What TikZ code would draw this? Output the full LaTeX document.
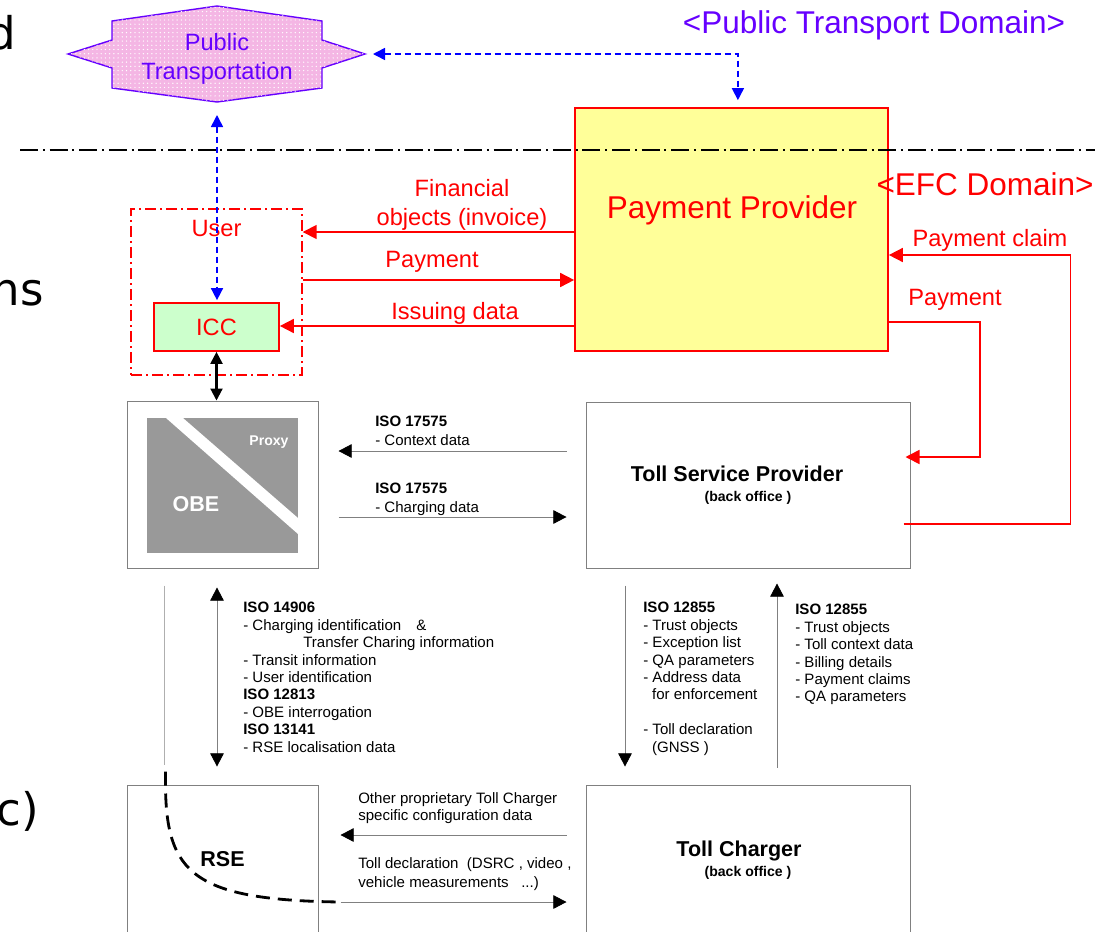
\documentclass[tikz,border=0pt]{standalone}
\usepackage{fontspec}
\setmainfont{Liberation Sans}
\newfontfamily\slidefont{DejaVu Sans}
\usepackage{xcolor}
\usepackage{tikz}
\usetikzlibrary{positioning, arrows.meta, patterns, calc}

\definecolor{efcred}{RGB}{255,0,0}
\definecolor{ptviolet}{RGB}{102,0,255}
\definecolor{ptblue}{RGB}{0,0,255}
\definecolor{ptpink}{RGB}{244,182,228}
\definecolor{ppyellow}{RGB}{255,255,153}
\definecolor{iccgreen}{RGB}{204,255,204}
\definecolor{obegray}{RGB}{153,153,153}
\definecolor{boxgray}{RGB}{128,128,128}
\definecolor{lightline}{RGB}{175,175,175}

\newcommand{\domainfont}{\fontsize{22.4}{26}\selectfont}
\newcommand{\labelfont}{\fontsize{16.8}{20.4}\selectfont}
\newcommand{\isofont}{\fontsize{10.7}{12.4}\selectfont}
\newcommand{\officefont}{\fontsize{15.3}{18}\selectfont\bfseries}
\newcommand{\backfont}{\fontsize{10}{14.2}\selectfont\bfseries}

\tikzset{
  efcbox/.style={draw=efcred, line width=1.2pt, inner sep=0pt},
  efcgroup/.style={draw=efcred, line width=1pt, dash pattern=on 2.75mm off 1mm on 0.5mm off 1mm},
  officebox/.style={draw=boxgray, line width=0.7pt, inner sep=0pt},
  redlabel/.style={text=efcred, font=\labelfont, align=center, inner sep=0pt},
  redflow/.style={draw=efcred, line width=1.2pt, -{Triangle[length=3.5mm,width=3.5mm]}},
  ptflow/.style={draw=ptblue, line width=1.1pt, dash pattern=on 1.5mm off 1mm,
    {Triangle[length=3mm,width=3mm]}-{Triangle[length=3mm,width=3mm]}},
  iccflow/.style={draw=black, line width=1.5pt,
    {Triangle[length=3mm,width=3mm]}-{Triangle[length=3mm,width=3mm]}},
  isoflow/.style={draw=boxgray, line width=0.6pt, -{Triangle[length=3.3mm,width=3.4mm,color=black]}},
  isotext/.style={font=\isofont, align=left, anchor=north west, inner sep=0pt},
  obelabel/.style={text=white, font=\officefont, inner sep=0pt},
  slidetext/.style={font=\slidefont\fontsize{32}{36}\selectfont, anchor=base east, inner sep=0pt},
  domainline/.style={line width=1.2pt, dash pattern=on 4.5mm off 1.2mm on 0.5mm off 1.2mm}
}

\begin{document}
\begin{tikzpicture}[x=0.25mm, y=-0.25mm]
  \useasboundingbox (0,0) rectangle (1106,931);
  \clip (0,0) rectangle (1106,931);

  % cut-off words of the slide
  \node[slidetext] (slideD) at (16,49) {d};
  \node[slidetext] (slideNs) at (44,305) {ns};
  \node[slidetext] (slideC) at (39,825) {c)};

  % public transport side
  \filldraw[draw=ptviolet, line width=1pt, fill=ptpink, postaction={pattern=dots, pattern color=white}]
    (217,6) -- (322,21) -- (322,40) -- (365,54) -- (322,68) -- (322,88) -- (217,102)
    -- (112,88) -- (112,68) -- (68,54) -- (112,40) -- (112,21) -- cycle;
  \coordinate (ptE) at (365,54);
  \coordinate (ptS) at (217,102);
  \node[text=ptviolet, font=\labelfont, align=center, inner sep=0pt] (ptname) at (217,59) {Public\\Transportation};
  \node[text=ptviolet, font=\domainfont, inner sep=0pt] (ptdomain) at (874,25) {<Public Transport Domain>};

  % EFC side
  \node[efcbox, fill=ppyellow, minimum width=78.25mm, minimum height=60.75mm] (pp) at (731.5,229.5) {};
  \node[text=efcred, font=\domainfont, inner sep=0pt] (ppname) at (732,210) {Payment Provider};
  \node[text=efcred, font=\domainfont, inner sep=0pt] (efcdomain) at (985,184) {<EFC Domain>};

  \node[efcgroup, minimum width=42.75mm, minimum height=41.5mm] (user) at (216.5,292) {};
  \node[redlabel] (username) at ([yshift=-5mm]user.north) {User};
  \node[efcbox, fill=iccgreen, minimum width=31.25mm, minimum height=12mm, text=efcred, font=\labelfont] (icc) at (216.5,327) {ICC};

  % back offices and equipment
  \node[officebox, minimum width=47.75mm, minimum height=41.75mm] (obe) at (222.5,484.5) {};
  \fill[obegray] ([shift={(20,17)}]obe.north west) rectangle ([shift={(-20,-16)}]obe.south east);
  \fill[white] (166,418) -- (183,418) -- (298,518) -- (298,534) -- cycle;
  \node[obelabel, font=\fontsize{10}{12}\selectfont\bfseries] (proxy) at (269,442) {Proxy};
  \node[obelabel] (obename) at (196,504) {OBE};

  \node[officebox, minimum width=81mm, minimum height=41.5mm, align=center, font=\backfont] (tsp) at (748,485)
    {{\officefont Toll Service Provider\hspace*{5.5mm}}\\(back office )};
  \node[officebox, minimum width=47.75mm, minimum height=37mm, font=\officefont] (rse) at (222.5,859) {RSE};
  \node[officebox, minimum width=81mm, minimum height=37.5mm, align=center, font=\backfont] (tc) at (748,860)
    {{\officefont Toll Charger\hspace*{4.5mm}}\\(back office )};

  % rows of the connectors
  \coordinate (finrow) at (0,232);
  \coordinate (payrow) at (0,280);
  \coordinate (issrow) at (0,326);
  \coordinate (claimrow) at (0,255);
  \coordinate (claimout) at (0,524);
  \coordinate (tsppayout) at (0,322);
  \coordinate (tsppayin) at (0,457);
  \coordinate (ctxrow) at (0,451);
  \coordinate (chgrow) at (0,517);
  \coordinate (cfgrow) at (0,835);
  \coordinate (declrow) at (0,902);

  % financial flows
  \draw[redflow] (pp.west |- finrow) -- (user.east |- finrow);
  \draw[redflow] (user.east |- payrow) -- (pp.west |- payrow);
  \draw[redflow] (pp.west |- issrow) -- (icc.east |- issrow);
  \draw[redflow, shorten <=-1.75mm] (tsp.east |- claimout) -- ++(160,0) |- (pp.east |- claimrow);
  \draw[redflow, shorten >=-1.25mm] (pp.east |- tsppayout) -- ++(91,0) |- (tsp.east |- tsppayin);
  \node[redlabel] (finlbl) at (462,205) {Financial\\objects (invoice)};
  \node[redlabel] (paylbl) at (432,262) {Payment};
  \node[redlabel] (isslbl) at (455,313) {Issuing data};
  \node[redlabel] (claimlbl) at (990,240) {Payment claim};
  \node[redlabel] (tsppaylbl) at (955,300) {Payment};

  % public transport links
  \draw[ptflow, shorten <=2mm, shorten >=1.75mm] (ptE) -| ([xshift=1.6mm]pp.north);
  \draw[ptflow, shorten <=3.25mm, shorten >=0.5mm] (ptS) -- (ptS |- icc.north);
  \draw[iccflow] (icc.south) -- (icc.south |- obe.north);

  % domain border
  \draw[domainline] (20,150) -- (1095,150);

  % standardised interfaces
  \draw[isoflow, shorten <=4.75mm, shorten >=5mm] (tsp.west |- ctxrow) -- (obe.east |- ctxrow);
  \draw[isoflow, shorten <=5mm, shorten >=4.75mm] (obe.east |- chgrow) -- (tsp.west |- chgrow);
  \draw[isoflow, shorten <=4.75mm, shorten >=5.5mm] (tc.west |- cfgrow) -- (rse.east |- cfgrow);
  \draw[isoflow, shorten <=5.5mm, shorten >=4.75mm] (rse.east |- declrow) -- (tc.west |- declrow);
  \draw[draw=lightline, line width=0.8pt] ([shift={(38,17)}]obe.south west) -- ([shift={(38,-20)}]rse.north west);
  \draw[isoflow, {Triangle[length=3.3mm,width=3.4mm,color=black]}-{Triangle[length=3.3mm,width=3.4mm,color=black]}]
    ([shift={(-5.5,19)}]obe.south) -- ([shift={(-5.5,-18)}]rse.north);
  \draw[isoflow] ([shift={(-123,17)}]tsp.south) -- ([shift={(-123,-18)}]tc.north);
  \draw[isoflow] ([shift={(29,-17)}]tc.north) -- ([shift={(29,15)}]tsp.south);
  \draw[line width=2pt, dash pattern=on 3.5mm off 2mm]
    ([shift={(39,-13)}]rse.north west) .. controls (164,870) and (185,900) .. ($(rse.east |- declrow)+(22,0)$);

  \node[isotext] (iso17575ctx) at (375,416) {\textbf{ISO 17575}\\[1.2pt]- Context data};
  \node[isotext] (iso17575chg) at (375,483) {\textbf{ISO 17575}\\[1.2pt]- Charging data};
  \node[isotext] (iso14906) at (243,602) {\textbf{ISO 14906}\\- Charging identification\quad\&\\
    \hspace*{15mm}Transfer Charing information\\- Transit information\\- User identification\\
    \textbf{ISO 12813}\\- OBE interrogation\\\textbf{ISO 13141}\\- RSE localisation data};
  \node[isotext] (iso12855down) at (643,602) {\textbf{ISO 12855}\\- Trust objects\\- Exception list\\
    - QA parameters\\- Address data\\\hspace*{2.2mm}for enforcement\\[12.4pt]- Toll declaration\\\hspace*{2.2mm}(GNSS )};
  \node[isotext] (iso12855up) at (795,604) {\textbf{ISO 12855}\\- Trust objects\\- Toll context data\\
    - Billing details\\- Payment claims\\- QA parameters};
  \node[isotext] (cfgtext) at (358,792) {Other proprietary Toll Charger\\specific configuration data};
  \node[isotext] (decltext) at (358,857) {Toll declaration~~(DSRC , video ,\\[1.5pt]vehicle measurements~~~...)};
\end{tikzpicture}
\end{document}
